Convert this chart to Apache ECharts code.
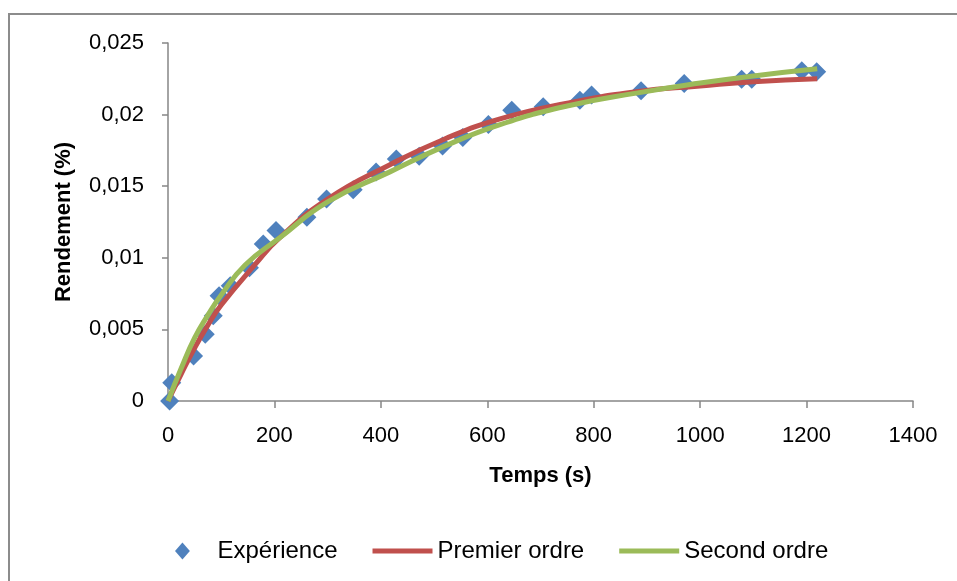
<!DOCTYPE html>
<html>
<head>
<meta charset="utf-8">
<script src="https://cdn.jsdelivr.net/npm/echarts@6/dist/echarts.min.js"></script>
<style>
    html, body { margin: 0; padding: 0; background: #fff; overflow: hidden; }
    #frame { position: absolute; left: 8px; top: 13px; width: 1000px; height: 700px;
             border-left: 2px solid #8c8c8c; border-top: 2px solid #8c8c8c; }
    #main { position: absolute; left: 0; top: 0; width: 957px; height: 581px; }
</style>
</head>
<body>
<div id="frame"></div>
<div id="main"></div>
<script>
    // points mesurés (temps en s, rendement)
    var expTemps = [3, 7, 48, 70, 85, 96, 117, 153, 179, 203, 261, 298, 348, 391, 429, 472, 516, 554, 602,
        646, 705, 774, 796, 889, 970, 1078, 1097, 1191, 1219];
    var expRendement = [0, 0.00128, 0.00315, 0.00467, 0.00595, 0.00735, 0.00805, 0.0093, 0.01097, 0.0119,
        0.01284, 0.0141, 0.01475, 0.0160, 0.0169, 0.0171, 0.0178, 0.0184, 0.0193,
        0.0203, 0.02054, 0.0210, 0.02136, 0.02166, 0.02218, 0.02246, 0.02246, 0.02306, 0.0230];

    var premierTemps = [0, 25, 50, 75, 100, 163, 210, 300, 417, 520, 624, 750, 880, 1000, 1100, 1220];
    var premierRendement = [0, 0.0019, 0.0037, 0.0053, 0.0067, 0.0095, 0.0114, 0.0141, 0.0165, 0.0183,
        0.0197, 0.0208, 0.0216, 0.0220, 0.0223, 0.0225];

    // modele second ordre (courbe verte)
    var secondTemps = [0, 25, 50, 75, 100, 145, 210, 300, 417, 520, 624, 750, 880, 1000, 1100, 1220];
    var secondRendement = [0, 0.0023, 0.0044, 0.0060, 0.0074, 0.0095, 0.0114, 0.0139, 0.0160, 0.0178,
        0.0193, 0.0206, 0.0215, 0.0222, 0.0227, 0.0232];

    function pairs(xs, ys) {
        var out = [];
        for (var i = 0; i < xs.length; i++) out.push([xs[i], ys[i]]);
        return out;
    }

    var font = '"Liberation Sans", "DejaVu Sans", sans-serif';
    var axisColor = '#868686';
    var lineIcon = 'path://M0,0 L60,0 L60,5 L0,5 Z';
    var diamondIcon = 'path://M7,0 L14,8 L7,16 L0,8 Z';

    var option = {
        animation: false,
        textStyle: { fontFamily: font },
        grid: { left: 168, right: 44, top: 43, bottom: 180 },
        legend: {
            left: 170, top: 534,
            itemWidth: 60, itemHeight: 17, itemGap: 35,
            textStyle: { fontSize: 24, color: '#000', fontFamily: font },
            data: [
                { name: 'Expérience', icon: diamondIcon },
                { name: 'Premier ordre', icon: lineIcon },
                { name: 'Second ordre', icon: lineIcon }
            ]
        },
        xAxis: {
            type: 'value', min: 0, max: 1400, interval: 200,
            name: 'Temps (s)', nameLocation: 'middle', nameGap: 64,
            nameTextStyle: { fontSize: 22, fontWeight: 'bold', color: '#000' },
            axisLine: { lineStyle: { color: axisColor, width: 1.5 } },
            axisTick: { length: 7, lineStyle: { color: axisColor, width: 1.5 } },
            axisLabel: {
                fontSize: 22, color: '#000', margin: 24,
                formatter: function (v) { return String(v); }
            },
            splitLine: { show: false }
        },
        yAxis: {
            type: 'value', min: 0, max: 0.025, interval: 0.005,
            name: 'Rendement (%)', nameLocation: 'middle', nameGap: 93,
            nameTextStyle: { fontSize: 22, fontWeight: 'bold', color: '#000' },
            axisLine: { show: true, lineStyle: { color: axisColor, width: 1.5 } },
            axisTick: { show: true, length: 6, lineStyle: { color: axisColor, width: 1.5 } },
            axisLabel: {
                fontSize: 22, color: '#000', margin: 24,
                formatter: function (v) { return String(+v.toFixed(3)).replace('.', ','); }
            },
            splitLine: { show: false }
        },
        series: [
            {
                name: 'Expérience', type: 'scatter',
                symbol: 'diamond', symbolSize: 19,
                itemStyle: { color: '#4F81BD', opacity: 1 },
                data: pairs(expTemps, expRendement), z: 1
            },
            {
                name: 'Premier ordre', type: 'line', smooth: 0.5,
                symbol: 'none', showSymbol: false,
                lineStyle: { color: '#C0504D', width: 5 },
                itemStyle: { color: '#C0504D' },
                data: pairs(premierTemps, premierRendement), z: 2
            },
            {
                name: 'Second ordre', type: 'line', smooth: 0.5,
                symbol: 'none', showSymbol: false,
                lineStyle: { color: '#9BBB59', width: 5 },
                itemStyle: { color: '#9BBB59' },
                data: pairs(secondTemps, secondRendement), z: 3
            }
        ]
    };

    var myChart = echarts.init(document.getElementById('main'));
    myChart.setOption(option);
</script>
</body>
</html>
